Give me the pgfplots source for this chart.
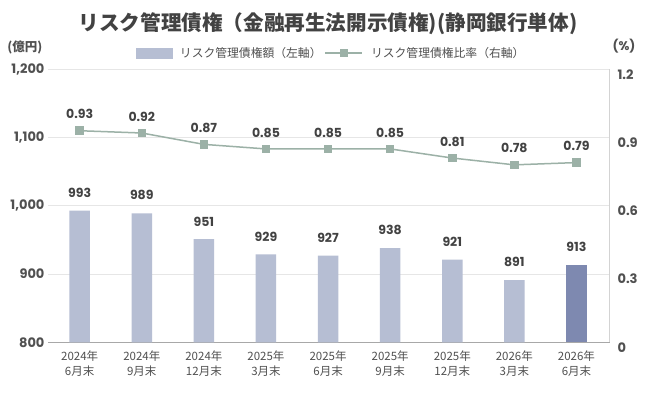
\documentclass[border=0pt]{standalone}
\usepackage{pgfplots}
\pgfplotsset{compat=1.18}
\usepackage{fontspec}
\setmainfont{Noto Sans CJK JP}
\newfontfamily\pop{Poppins}
\definecolor{barc}{HTML}{B6BED3}
\definecolor{barlast}{HTML}{7E89B0}
\definecolor{linec}{HTML}{9CB1A7}
\definecolor{txt}{HTML}{424242}
\definecolor{tick}{HTML}{505050}
\definecolor{gridc}{HTML}{E6E6E6}
\definecolor{axc}{HTML}{A8A8A8}
\pgfplotsset{mylinelegend/.style={legend image code/.code={\draw[##1, mark=none] (0pt,0pt) -- (37pt,0pt); \draw[##1] plot coordinates {(18.5pt,0pt)};}}}
\begin{document}
\begin{tikzpicture}
\useasboundingbox (0,0) rectangle (651pt,400pt);
\fill[white] (0,0) rectangle (651pt,400pt);
\begin{axis}[
  at={(48pt,57.7pt)}, anchor=south west,
  scale only axis, width=562pt, height=273pt,
  xmin=-0.51, xmax=8.54, ymin=800, ymax=1200,
  ybar, bar width=20.5pt, bar shift=0pt,
  xtick={0,...,8},
  xticklabels={{2024年\\6月末},{2024年\\9月末},{2024年\\12月末},{2025年\\3月末},{2025年\\6月末},{2025年\\9月末},{2025年\\12月末},{2026年\\3月末},{2026年\\6月末}},
  xticklabel style={align=center, font=\fontsize{11.5}{14.5}\selectfont, text=tick, yshift=-5pt},
  ytick={800,900,1000,1100,1200},
  yticklabel style={font=\pop\bfseries\fontsize{13}{15}\selectfont, text=tick},
  /pgf/number format/assume math mode=true,
  major tick length=0pt,
  ymajorgrids, grid style={gridc, line width=0.8pt},
  axis x line*=bottom, x axis line style={-, axc, line width=1pt},
  axis y line*=left, y axis line style={draw=none},
  nodes near coords,
  every node near coord/.append style={font=\pop\bfseries\fontsize{12.5}{14}\selectfont, text=txt, anchor=south, inner sep=0pt, yshift=13pt},
]
\addplot[fill=barc, draw=none] coordinates {(0,993) (1,989) (2,951) (3,929) (4,927) (5,938) (6,921) (7,891)};
\addplot[fill=barlast, draw=none] coordinates {(8,913)};
\end{axis}
\begin{axis}[
  at={(48pt,57.7pt)}, anchor=south west,
  scale only axis, width=562pt, height=273pt,
  xmin=-0.51, xmax=8.54, ymin=0, ymax=1.2,
  ytick={0,0.3,0.6,0.9,1.2},
  yticklabel style={font=\pop\bfseries\fontsize{13}{15}\selectfont, text=tick, anchor=west, xshift=4pt, yshift=-5pt},
  /pgf/number format/assume math mode=true,
  major tick length=0pt,
  axis x line=none,
  axis y line*=right, y axis line style={-, gridc!70!axc, line width=1pt},
  legend style={at={(0.5036,1.0597)}, anchor=center, draw=none, fill=none, legend columns=2,
    font=\fontsize{11.8}{14}\selectfont, text=tick,
    /tikz/every odd column/.append style={column sep=6pt},
    /tikz/every even column/.append style={column sep=1pt}},
  legend cell align=left,
]
\addlegendimage{legend image code/.code={\fill[barc] (0pt,-5pt) rectangle (36pt,5pt);}}
\addlegendentry{リスク管理債権額（左軸）}
\addplot[linec, line width=1.5pt, mark=square*, mark size=3.5pt, mark options={solid, fill=linec, draw=linec},
  nodes near coords,
  every node near coord/.append style={font=\pop\bfseries\fontsize{12.5}{14}\selectfont, text=txt, anchor=south, inner sep=0pt, yshift=11pt},
  mylinelegend
] coordinates {(0,0.93) (1,0.92) (2,0.87) (3,0.85) (4,0.85) (5,0.85) (6,0.81) (7,0.78) (8,0.79)};
\addlegendentry{リスク管理債権比率（右軸）}
\end{axis}
\node[font=\bfseries\fontsize{20.6}{24}\selectfont, text=txt] at (328pt,376pt) {リスク管理債権（金融再生法開示債権)(静岡銀行単体)};
\node[font=\fontsize{12.5}{14}\selectfont\bfseries, text=tick] at (25pt,353pt) {(億円)};
\node[font=\pop\bfseries\fontsize{12.5}{14}\selectfont, text=tick] at (624pt,354pt) {(\%)};
\end{tikzpicture}
\end{document}
